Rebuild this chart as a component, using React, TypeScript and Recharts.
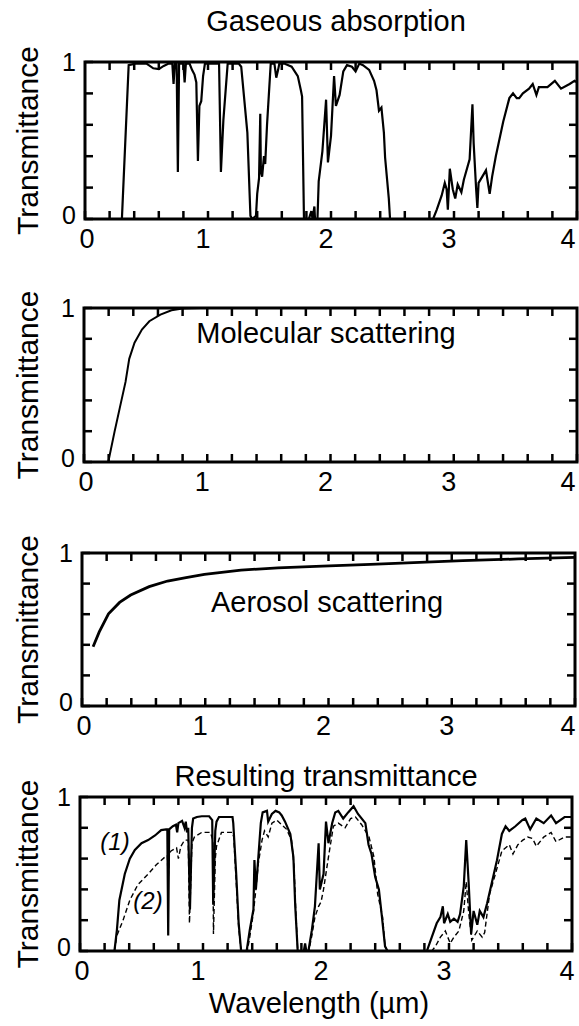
import React from 'react';
import { LineChart, Line, XAxis, YAxis, ReferenceArea, ReferenceLine } from 'recharts';

const FONT = '"Liberation Sans", Arial, Helvetica, sans-serif';

const xLabelTicks = [0, 1, 2, 3, 4];
const yLabelTicks = [0, 1];
const xAllTicks = [0, 0.2, 0.4, 0.6, 0.8, 1, 1.2, 1.4, 1.6, 1.8, 2, 2.2, 2.4, 2.6, 2.8, 3, 3.2, 3.4, 3.6, 3.8, 4];
const yAllTicks = [0, 0.2, 0.4, 0.6, 0.8, 1];
const xInnerTicks = [0.2, 0.4, 0.6, 0.8, 1, 1.2, 1.4, 1.6, 1.8, 2, 2.2, 2.4, 2.6, 2.8, 3, 3.2, 3.4, 3.6, 3.8];
const yInnerTicks = [0.2, 0.4, 0.6, 0.8];

const panelTitles = ['Gaseous absorption', 'Molecular scattering', 'Aerosol scattering', 'Resulting transmittance'];
const yLabel = 'Transmittance';
const xLabel = 'Wavelength (µm)';
const seriesLabels = ['(1)', '(2)'];

// [wavelength µm, transmittance]
const gaseous: [number, number][] = [
  [0.30, 0], [0.355, 0.98], [0.41, 0.99], [0.50, 0.99], [0.555, 0.96], [0.60, 0.955], [0.64, 0.975],
  [0.68, 0.99], [0.71, 0.99], [0.72, 0.86], [0.73, 0.99], [0.745, 0.99], [0.755, 0.30], [0.765, 0.99],
  [0.80, 0.99], [0.81, 0.87], [0.82, 0.99], [0.85, 0.99], [0.87, 0.95], [0.89, 0.92], [0.905, 0.87],
  [0.918, 0.37], [0.93, 0.72], [0.945, 0.75], [0.96, 0.91], [0.975, 0.99], [1.00, 0.99], [1.09, 0.99],
  [1.105, 0.30], [1.125, 0.63], [1.16, 0.99], [1.25, 0.99], [1.27, 0.97], [1.32, 0.55], [1.345, 0.02],
  [1.36, 0], [1.39, 0.02], [1.40, 0.16], [1.415, 0.26], [1.425, 0.67], [1.43, 0.30], [1.44, 0.27],
  [1.455, 0.40], [1.465, 0.35], [1.48, 0.60], [1.51, 0.99], [1.54, 0.99], [1.555, 0.90], [1.57, 0.95],
  [1.58, 0.99], [1.62, 0.99], [1.68, 0.97], [1.73, 0.91], [1.755, 0.82], [1.765, 0.78], [1.78, 0.01],
  [1.79, 0], [1.82, 0], [1.84, 0.05], [1.85, 0], [1.865, 0.08], [1.87, 0], [1.89, 0], [1.90, 0.24],
  [1.93, 0.43], [1.96, 0.76], [1.975, 0.36], [2.0, 0.53], [2.025, 0.91], [2.04, 0.72], [2.07, 0.79],
  [2.10, 0.94], [2.13, 0.98], [2.17, 0.97], [2.20, 0.94], [2.23, 0.99], [2.26, 0.98], [2.31, 0.95],
  [2.35, 0.88], [2.37, 0.82], [2.39, 0.69], [2.41, 0.71], [2.43, 0.55], [2.44, 0.39], [2.47, 0.13],
  [2.48, 0], [2.83, 0], [2.86, 0.06], [2.90, 0.15], [2.925, 0.23], [2.94, 0.19], [2.95, 0.06],
  [2.966, 0.32], [2.99, 0.19], [3.01, 0.13], [3.03, 0.22], [3.06, 0.17], [3.08, 0.25], [3.127, 0.38],
  [3.15, 0.73], [3.16, 0.48], [3.18, 0.19], [3.19, 0.07], [3.20, 0.23], [3.23, 0.27], [3.26, 0.31],
  [3.29, 0.16], [3.31, 0.27], [3.34, 0.40], [3.40, 0.62], [3.45, 0.77], [3.48, 0.80], [3.51, 0.77],
  [3.53, 0.77], [3.56, 0.80], [3.61, 0.83], [3.64, 0.86], [3.67, 0.79], [3.69, 0.84], [3.76, 0.84],
  [3.82, 0.88], [3.87, 0.83], [3.94, 0.86], [3.98, 0.88], [4.0, 0.87],
];

const molecular: [number, number][] = [
  [0.197, 0], [0.248, 0.197], [0.29, 0.35], [0.337, 0.52], [0.367, 0.67], [0.41, 0.775], [0.47, 0.86],
  [0.53, 0.914], [0.62, 0.957], [0.71, 0.985], [0.80, 0.996], [0.95, 1], [1.2, 1], [2, 1], [3, 1], [4, 1],
];

const aerosol: [number, number][] = [
  [0.09, 0.387], [0.14, 0.484], [0.215, 0.602], [0.305, 0.677], [0.395, 0.725], [0.545, 0.78],
  [0.694, 0.817], [0.844, 0.839], [0.993, 0.86], [1.29, 0.888], [1.59, 0.903], [1.95, 0.914],
  [2.34, 0.925], [2.64, 0.935], [3.09, 0.95], [3.54, 0.961], [4.0, 0.972],
];

const resulting1: [number, number][] = [
  [0.28, 0], [0.30, 0.136], [0.32, 0.33], [0.364, 0.50], [0.405, 0.60], [0.446, 0.656], [0.50, 0.70],
  [0.554, 0.72], [0.61, 0.75], [0.66, 0.785], [0.70, 0.79], [0.71, 0.79], [0.717, 0.10], [0.725, 0.79],
  [0.755, 0.81], [0.78, 0.82], [0.79, 0.77], [0.80, 0.83], [0.83, 0.845], [0.85, 0.80], [0.86, 0.84],
  [0.87, 0.77], [0.88, 0.80], [0.894, 0.27], [0.91, 0.80], [0.92, 0.86], [0.95, 0.87], [0.99, 0.875],
  [1.05, 0.875], [1.075, 0.85], [1.083, 0.30], [1.10, 0.78], [1.11, 0.84], [1.13, 0.87], [1.24, 0.87],
  [1.246, 0.83], [1.27, 0.50], [1.29, 0.18], [1.31, 0], [1.355, 0], [1.38, 0.135], [1.41, 0.27],
  [1.418, 0.59], [1.43, 0.40], [1.45, 0.61], [1.47, 0.83], [1.485, 0.90], [1.52, 0.91], [1.53, 0.84],
  [1.56, 0.89], [1.59, 0.91], [1.62, 0.90], [1.64, 0.88], [1.667, 0.84], [1.71, 0.76], [1.735, 0.61],
  [1.75, 0.29], [1.77, 0], [1.82, 0], [1.83, 0.05], [1.84, 0], [1.857, 0], [1.885, 0.135], [1.91, 0.29],
  [1.94, 0.70], [1.95, 0.40], [1.98, 0.50], [2.0, 0.84], [2.02, 0.70], [2.05, 0.83], [2.075, 0.90],
  [2.10, 0.91], [2.14, 0.86], [2.18, 0.90], [2.224, 0.94], [2.26, 0.89], [2.32, 0.83], [2.346, 0.69],
  [2.37, 0.63], [2.40, 0.48], [2.43, 0.40], [2.455, 0.22], [2.48, 0.03], [2.50, 0], [2.82, 0],
  [2.86, 0.09], [2.90, 0.18], [2.93, 0.22], [2.95, 0.29], [2.96, 0.18], [2.99, 0.24], [3.01, 0.19],
  [3.04, 0.21], [3.07, 0.19], [3.09, 0.24], [3.12, 0.42], [3.14, 0.72], [3.16, 0.44], [3.18, 0.11],
  [3.20, 0.26], [3.23, 0.17], [3.25, 0.26], [3.28, 0.22], [3.31, 0.31], [3.35, 0.45], [3.39, 0.59],
  [3.43, 0.76], [3.46, 0.81], [3.49, 0.78], [3.54, 0.81], [3.595, 0.85], [3.62, 0.86], [3.66, 0.79],
  [3.71, 0.86], [3.77, 0.83], [3.83, 0.88], [3.87, 0.83], [3.94, 0.87], [4.0, 0.87],
];

const resulting2: [number, number][] = [
  [0.28, 0], [0.30, 0.10], [0.35, 0.20], [0.405, 0.33], [0.47, 0.43], [0.554, 0.50], [0.62, 0.56],
  [0.69, 0.61], [0.71, 0.62], [0.717, 0.45], [0.725, 0.63], [0.74, 0.65], [0.785, 0.67], [0.80, 0.60],
  [0.82, 0.68], [0.85, 0.72], [0.88, 0.72], [0.89, 0.18], [0.91, 0.70], [0.93, 0.74], [0.99, 0.77],
  [1.06, 0.77], [1.08, 0.72], [1.085, 0.11], [1.10, 0.60], [1.11, 0.68], [1.15, 0.77], [1.24, 0.77],
  [1.25, 0.74], [1.27, 0.45], [1.29, 0.15], [1.31, 0], [1.36, 0], [1.38, 0.09], [1.41, 0.25],
  [1.43, 0.40], [1.45, 0.57], [1.48, 0.72], [1.50, 0.78], [1.53, 0.74], [1.56, 0.83], [1.60, 0.85],
  [1.64, 0.82], [1.68, 0.79], [1.72, 0.72], [1.74, 0.55], [1.755, 0.25], [1.77, 0], [1.86, 0],
  [1.885, 0.10], [1.91, 0.22], [1.94, 0.29], [1.96, 0.32], [1.98, 0.40], [2.02, 0.61], [2.06, 0.81],
  [2.10, 0.83], [2.155, 0.80], [2.20, 0.86], [2.24, 0.87], [2.29, 0.82], [2.35, 0.74], [2.39, 0.61],
  [2.42, 0.37], [2.46, 0.22], [2.48, 0.03], [2.50, 0], [2.86, 0], [2.89, 0.03], [2.93, 0.09],
  [2.97, 0.13], [3.01, 0.05], [3.04, 0.09], [3.08, 0.13], [3.12, 0.26], [3.14, 0.45], [3.16, 0.25],
  [3.185, 0.07], [3.23, 0.13], [3.27, 0.09], [3.29, 0.12], [3.33, 0.37], [3.37, 0.48], [3.43, 0.65],
  [3.49, 0.69], [3.52, 0.63], [3.56, 0.69], [3.60, 0.72], [3.64, 0.74], [3.68, 0.73], [3.71, 0.68],
  [3.77, 0.74], [3.83, 0.77], [3.87, 0.71], [3.94, 0.74], [4.0, 0.74],
];

const toRows = (pts: [number, number][]) => pts.map(([x, t]) => ({ x, t }));
const isLabelled = (v: number, list: number[]) => list.some((t) => Math.abs(t - v) < 1e-6);

type Series = { data: [number, number][]; width: number; dash?: string };

type PanelProps = {
  top: number;
  height: number;
  left: number;
  right: number;
  plotTop: number;
  plotBottom: number;
  series: Series[];
  children?: React.ReactNode;
};

const XTick = (props: any) => {
  const { x, y, payload } = props;
  if (!isLabelled(payload.value, xLabelTicks)) return <g />;
  const shift = payload.value === 0 ? 2 : -5;
  return (
    <text x={Math.min(x + shift, 568)} y={y} dy="0.72em" textAnchor="middle" fontSize={27} fontFamily={FONT} fill="#000">
      {payload.value}
    </text>
  );
};

const YTick = (props: any) => {
  const { x, y, payload } = props;
  if (!isLabelled(payload.value, yLabelTicks)) return <g />;
  const lift = payload.value === 0 ? -4 : 0;
  return (
    <text x={x} y={y + lift} dy="0.36em" textAnchor="end" fontSize={25} fontFamily={FONT} fill="#000">
      {payload.value}
    </text>
  );
};

const TICK_LEN = 8;

function Panel({ top, height, left, right, plotTop, plotBottom, series, children }: PanelProps) {
  const xAxisH = top + height - plotBottom;
  const yMid = (plotTop + plotBottom) / 2 - top;
  const tickLine = { stroke: '#000', strokeWidth: 2.5 };
  const topTickLen = TICK_LEN / (plotBottom - plotTop);
  const rightTickLen = (TICK_LEN * 4) / (right - left);
  return (
    <div style={{ position: 'absolute', left: 0, top, width: 579, height }}>
      <LineChart
        width={579}
        height={height}
        margin={{ top: plotTop - top, right: 579 - right, bottom: 0, left: 0 }}
        style={{ fontFamily: FONT }}
      >
        <XAxis
          xAxisId="x"
          type="number"
          dataKey="x"
          domain={[0, 4]}
          ticks={xAllTicks}
          interval={0}
          allowDataOverflow
          tickLine={tickLine}
          axisLine={false}
          tickSize={-TICK_LEN}
          tickMargin={TICK_LEN + 10}
          height={xAxisH}
          tick={<XTick />}
        />
        <YAxis
          yAxisId="y"
          type="number"
          domain={[0, 1]}
          ticks={yAllTicks}
          interval={0}
          allowDataOverflow
          width={left}
          tickLine={tickLine}
          axisLine={false}
          tickSize={-TICK_LEN}
          tickMargin={TICK_LEN + 9}
          tick={<YTick />}
        />
        {xInnerTicks.map((v) => (
          <ReferenceLine
            key={`t${v}`}
            xAxisId="x"
            yAxisId="y"
            segment={[{ x: v, y: 1 }, { x: v, y: 1 - topTickLen }]}
            stroke="#000"
            strokeWidth={2.5}
            ifOverflow="visible"
          />
        ))}
        {yInnerTicks.map((v) => (
          <ReferenceLine
            key={`r${v}`}
            xAxisId="x"
            yAxisId="y"
            segment={[{ x: 4, y: v }, { x: 4 - rightTickLen, y: v }]}
            stroke="#000"
            strokeWidth={2.5}
            ifOverflow="visible"
          />
        ))}
        <ReferenceArea xAxisId="x" yAxisId="y" x1={0} x2={4} y1={0} y2={1} fill="none" fillOpacity={0} stroke="#000" strokeWidth={3} ifOverflow="visible" />
        {series.map((s, i) => (
          <Line
            key={i}
            xAxisId="x"
            yAxisId="y"
            data={toRows(s.data)}
            dataKey="t"
            type="linear"
            dot={false}
            activeDot={false}
            stroke="#000"
            strokeWidth={s.width}
            strokeDasharray={s.dash}
            isAnimationActive={false}
          />
        ))}
        <text
          x={27}
          y={yMid}
          transform={`rotate(-90, 27, ${yMid})`}
          textAnchor="middle"
          dominantBaseline="central"
          fontSize={30}
          fontFamily={FONT}
          fill="#000"
        >
          {yLabel}
        </text>
        {children}
      </LineChart>
    </div>
  );
}

const txt = (x: number, y: number, s: string, size = 29, italic = false) => (
  <text x={x} y={y} textAnchor="middle" fontSize={size} fontFamily={FONT} fontStyle={italic ? 'italic' : 'normal'} fill="#000">
    {s}
  </text>
);

export default function App() {
  return (
    <div style={{ position: 'absolute', left: 0, top: 0, width: 579, height: 1026, background: '#fff' }}>
      <Panel top={0} height={262} left={85} right={577} plotTop={62} plotBottom={219} series={[{ data: gaseous, width: 2.2 }]}>
        {txt(336, 31, panelTitles[0])}
      </Panel>
      <Panel top={262} height={245} left={84} right={577} plotTop={308} plotBottom={462} series={[{ data: molecular, width: 2 }]}>
        {txt(326, 81, panelTitles[1])}
      </Panel>
      <Panel top={507} height={245} left={82} right={575} plotTop={553} plotBottom={706} series={[{ data: aerosol, width: 2.8 }]}>
        {txt(327, 105, panelTitles[2])}
      </Panel>
      <Panel
        top={752}
        height={274}
        left={80}
        right={572}
        plotTop={797}
        plotBottom={951}
        series={[
          { data: resulting1, width: 2.2 },
          { data: resulting2, width: 1.4, dash: '5 3' },
        ]}
      >
        {txt(326, 34, panelTitles[3])}
        {txt(319, 261, xLabel)}
        {txt(115, 98, seriesLabels[0], 24, true)}
        {txt(148, 157, seriesLabels[1], 24, true)}
      </Panel>
    </div>
  );
}
